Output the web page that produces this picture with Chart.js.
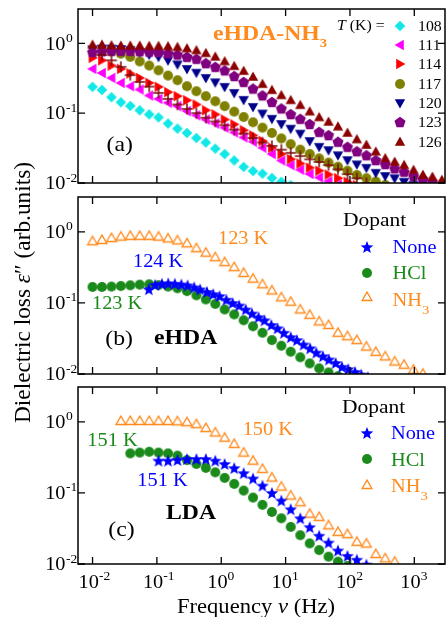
<!DOCTYPE html>
<html>
<head>
<meta charset="utf-8">
<title>Dielectric loss spectra</title>
<script src="https://cdn.jsdelivr.net/npm/chart.js@4.4.1/dist/chart.umd.min.js"></script>
<style>
html,body{margin:0;padding:0;background:#fff;overflow:hidden;width:448px;height:617px;}
#wrap{position:relative;width:448px;height:617px;overflow:hidden;background:#fff;}
#wrap canvas{position:absolute;left:0;top:0;}
</style>
</head>
<body>
<div id="wrap">
<canvas id="pa" width="452" height="617"></canvas>
<canvas id="pb" width="452" height="617"></canvas>
<canvas id="pc" width="452" height="617"></canvas>
</div>
<script>
// ===================== DATA =====================
// common measuring-frequency grid (Hz)
const FREQ = [0.0100,0.0140,0.0197,0.0275,0.0386,0.0541,0.0759,0.106,0.149,0.209,
              0.293,0.411,0.576,0.808,1.13,1.59,2.23,3.12,4.37,6.13,
              8.59,12.0,16.9,23.7,33.2,46.5,65.2,91.4,128,180,
              252,353,495,694,972,1360,1910,2680];

// (a) eHDA-NH3 at several temperatures
const A_TEMPS = ['108','111','114','117','120','123','126'];
const A_108 = [0.238,0.215,0.169,0.143,0.127,0.110,0.096,0.087,0.071,0.060,0.052,0.044,0.038,0.031,0.026,0.021,0.017,0.0148,0.0136,0.0118,0.0104,0.0093];
const A_111 = [0.43,0.376,0.32,0.271,0.243,0.218,0.179,0.16,0.141,0.126,0.107,0.093,0.081,0.071,0.062,0.053,0.045,0.039,0.032,0.026,0.021,0.018,0.0155,0.0135,0.012,0.0106,0.0095];
const A_114 = [0.62,0.57,0.48,0.43,0.37,0.32,0.271,0.238,0.2,0.175,0.153,0.133,0.11,0.096,0.081,0.069,0.057,0.048,0.040,0.032,0.026,0.022,0.019,0.0166,0.015,0.0132,0.0117,0.0104,0.0093];
const A_117 = [null,null,0.77,0.71,0.64,0.55,0.48,0.41,0.345,0.296,0.243,0.206,0.175,0.148,0.126,0.105,0.088,0.074,0.062,0.052,0.0435,0.036,0.030,0.026,0.0225,0.0196,0.0171,0.015,0.013,0.0117,0.0105,0.0094];
const A_120 = [0.82,0.84,0.84,0.83,0.80,0.75,0.69,0.64,0.57,0.50,0.43,0.38,0.32,0.277,0.238,0.195,0.155,0.123,0.099,0.083,0.070,0.060,0.051,0.040,0.033,0.0296,0.025,0.0213,0.0185,0.0165,0.014,0.0126,0.0117,0.0104,0.0094];
const A_123 = [0.75,0.77,0.78,0.78,0.78,0.77,0.76,0.75,0.72,0.69,0.64,0.60,0.52,0.46,0.41,0.34,0.28,0.225,0.18,0.145,0.117,0.097,0.083,0.070,0.054,0.0485,0.039,0.033,0.0285,0.025,0.0213,0.0187,0.0162,0.0145,0.0126,0.0113,0.0104,0.0094];
const A_126 = [0.95,0.95,0.93,0.92,0.92,0.92,0.91,0.91,0.90,0.88,0.84,0.79,0.72,0.64,0.55,0.47,0.40,0.33,0.26,0.213,0.18,0.153,0.13,0.105,0.087,0.075,0.064,0.052,0.042,0.035,0.028,0.0225,0.020,0.018,0.0153,0.013,0.0122,0.011];
const A_PLUS = [null,0.68,0.57,0.46,0.35,0.28,0.24,0.195,0.16,0.133,0.115,0.10,0.086,0.076,0.067,0.058,0.051,0.044,0.038,0.034,0.030,0.027,0.0243,0.0218,0.020,0.018,0.0157,0.0134,0.0117,0.0100];

// (b) eHDA with dopants
const DOPANTS = ['None','HCl','NH'];
const B_NH3 = [0.74,0.77,0.82,0.86,0.88,0.88,0.88,0.86,0.81,0.76,0.69,0.59,0.51,0.44,0.375,0.32,0.265,0.22,0.183,0.15,0.12,0.104,0.081,0.068,0.055,0.049,0.038,0.034,0.030,0.0243,0.0205,0.0177,0.015,0.0135,0.0115,0.0101];
const B_HCL = [0.168,0.168,0.17,0.173,0.177,0.181,0.183,0.178,0.17,0.161,0.147,0.128,0.112,0.097,0.081,0.069,0.057,0.047,0.038,0.030,0.025,0.0206,0.0172,0.0141,0.012,0.0105,0.0093];
const B_NONE_FREQ = [0.075,0.094,0.12,0.15,0.19,0.24,0.30,0.38,0.47,0.60,0.75,0.94,1.2,1.5,1.9,2.4,3.0,3.8,4.7,6.0,7.5,9.4,12,15,19,24,30,38,47,60,75,94,120,150,190];
const B_NONE = [0.156,0.18,0.186,0.189,0.186,0.182,0.177,0.166,0.155,0.143,0.133,0.125,0.111,0.100,0.092,0.081,0.071,0.063,0.057,0.049,0.044,0.038,0.033,0.030,0.026,0.023,0.020,0.0178,0.016,0.0143,0.0126,0.0117,0.0107,0.0098,0.009];

// (c) LDA with dopants
const C_NH3 = [null,null,null,1.03,1.03,1.03,1.03,1.03,1.03,1.02,0.99,0.93,0.82,0.71,0.60,0.49,0.37,0.285,0.218,0.165,0.123,0.092,0.074,0.051,0.046,0.035,0.0283,0.0263,0.0205,0.0194,0.0138,0.012,0.0108];
const C_HCL = [null,null,null,null,0.36,0.37,0.38,0.37,0.36,0.335,0.29,0.256,0.225,0.195,0.163,0.134,0.108,0.086,0.068,0.054,0.044,0.0333,0.0254,0.0195,0.0157,0.0127,0.0108,0.0094];
const C_NONE = [null,null,null,null,null,null,null,0.285,0.285,0.291,0.30,0.30,0.30,0.285,0.256,0.224,0.19,0.16,0.127,0.10,0.078,0.059,0.044,0.033,0.025,0.020,0.0155,0.013,0.0115,0.0098];

// axis ticks
const X_TICKS = [0.01,0.1,1,10,100,1000];
const X_TICK_EXP = ['-2','-1','0','1','2','3'];
const Y_TICKS = [0.01,0.1,1];
const Y_TICK_EXP = ['-2','-1','0'];

// ===================== STYLE =====================
const X_MIN = 0.005943, X_MAX = 2999, Y_MIN = 0.01, Y_MAX = 3.1;
const SX = 1.13;
const FAM = "'Liberation Serif','Times New Roman',Times,serif";
const F = (s, st) => (st ? st + ' ' : '') + s + 'px ' + FAM;
const ORANGE = '#ff8a1d', GREEN = '#1a8a1a', BLUE = '#0000ff';

function mk(shape, fill, stroke, lw) {
  const S = 18, m = S / 2;
  const c = document.createElement('canvas'); c.width = S; c.height = S;
  const g = c.getContext('2d');
  g.beginPath();
  const poly = p => { g.moveTo(m + p[0][0], m + p[0][1]); for (let i = 1; i < p.length; i++) g.lineTo(m + p[i][0], m + p[i][1]); g.closePath(); };
  if (shape === 'diamond') poly([[0,-5.3],[5.3,0],[0,5.3],[-5.3,0]]);
  else if (shape === 'up') poly([[0,-5.4],[5.2,3.8],[-5.2,3.8]]);
  else if (shape === 'upO') poly([[0,-4.9],[4.9,3.5],[-4.9,3.5]]);
  else if (shape === 'down') poly([[0,5.4],[5.2,-3.8],[-5.2,-3.8]]);
  else if (shape === 'left') poly([[-5.4,0],[3.8,-5.2],[3.8,5.2]]);
  else if (shape === 'right') poly([[5.4,0],[-3.8,-5.2],[-3.8,5.2]]);
  else if (shape === 'circle') g.arc(m, m, 5, 0, Math.PI * 2);
  else if (shape === 'pentagon') { const p = []; for (let i = 0; i < 5; i++) { const a = -Math.PI / 2 + i * 2 * Math.PI / 5; p.push([5.8 * Math.cos(a), 5.8 * Math.sin(a) + 0.5]); } poly(p); }
  else if (shape === 'star') { const p = []; for (let i = 0; i < 10; i++) { const r = i % 2 ? 2.8 : 6.6; const a = -Math.PI / 2 + i * Math.PI / 5; p.push([r * Math.cos(a), r * Math.sin(a) + 0.6]); } poly(p); }
  else if (shape === 'plus') { g.moveTo(m - 5.5, m); g.lineTo(m + 5.5, m); g.moveTo(m, m - 5.5); g.lineTo(m, m + 5.5); }
  if (fill) { g.fillStyle = fill; g.fill(); }
  if (stroke) { g.strokeStyle = stroke; g.lineWidth = lw; g.stroke(); }
  return c;
}
const M_CYAN = mk('diamond', '#12e8e8'), M_MAG = mk('left', '#ff00ff'), M_RED = mk('right', '#ff0000'),
      M_OLIVE = mk('circle', '#808000'), M_NAVY = mk('down', '#00008b'), M_PURPLE = mk('pentagon', '#800080'),
      M_BROWN = mk('up', '#8b0000'), M_PLUS = mk('plus', null, '#7a0a0a', 1.5),
      M_STAR = mk('star', BLUE), M_GREEN = mk('circle', GREEN), M_OPEN = mk('upO', null, ORANGE, 1.3);

function pts(freq, vals) { const o = []; vals.forEach((v, i) => { if (v != null) o.push({ x: freq[i], y: v }); }); return o; }
function ds(label, freq, vals, marker) {
  return { label, data: pts(freq, vals), pointStyle: marker, pointRadius: 6, pointHoverRadius: 6, showLine: false, clip: 0 };
}

function runs(ctx, x, y, parts, align) {
  ctx.save();
  let total = 0;
  parts.forEach(p => { ctx.font = p[1]; total += ctx.measureText(p[0]).width * SX; });
  let cx = align === 'center' ? x - total / 2 : align === 'right' ? x - total : x;
  ctx.textBaseline = 'alphabetic'; ctx.textAlign = 'left';
  parts.forEach(p => {
    ctx.font = p[1]; ctx.fillStyle = p[2] || '#000';
    const w = ctx.measureText(p[0]).width;
    ctx.save(); ctx.translate(cx, y + (p[3] || 0)); ctx.scale(SX, 1); ctx.fillText(p[0], 0, 0); ctx.restore();
    cx += w * SX;
  });
  ctx.restore();
  return total;
}
function mark(ctx, m, x, y) { ctx.drawImage(m, Math.round(x - 9), Math.round(y - 9)); }

const framePlugin = {
  id: 'frame',
  afterDatasetsDraw(chart, args, opts) {
    const { ctx, chartArea: a } = chart;
    const xs = chart.scales.x, ys = chart.scales.y;
    ctx.save();
    ctx.strokeStyle = '#000';
    ctx.lineWidth = 1.5;
    ctx.strokeRect(a.left, a.top, a.right - a.left, a.bottom - a.top);
    ctx.lineWidth = 1.3;
    ctx.beginPath();
    X_TICKS.forEach(v => { const p = xs.getPixelForValue(v); ctx.moveTo(p, a.bottom); ctx.lineTo(p, a.bottom - 7); ctx.moveTo(p, a.top); ctx.lineTo(p, a.top + 7); });
    Y_TICKS.forEach(v => { const p = ys.getPixelForValue(v); ctx.moveTo(a.left, p); ctx.lineTo(a.left + 7, p); ctx.moveTo(a.right, p); ctx.lineTo(a.right - 7, p); });
    ctx.stroke();
    Y_TICKS.forEach((v, i) => {
      const p = ys.getPixelForValue(v);
      runs(ctx, 65.5, p + 6.3, [['10', F(18)]], 'right');
      runs(ctx, 66, p - 1.5, [[Y_TICK_EXP[i], F(12)]]);
    });
    if (opts && opts.xLabels) {
      X_TICKS.forEach((v, i) => {
        const p = xs.getPixelForValue(v);
        const w = runs(ctx, p - 14, 588, [['10', F(18)]]);
        runs(ctx, p - 14 + w, 580, [[X_TICK_EXP[i], F(12)]]);
      });
    }
    ctx.restore();
  }
};

function panel(id, top, bottom, datasets, frameOpts, annot) {
  return new Chart(document.getElementById(id), {
    type: 'scatter',
    data: { datasets },
    options: {
      responsive: false, animation: false, events: [],
      layout: { padding: { left: 78, right: 2, top: top, bottom: 617 - bottom } },
      plugins: { legend: { display: false }, tooltip: { enabled: false }, frame: frameOpts },
      scales: {
        x: { type: 'logarithmic', min: X_MIN, max: X_MAX, display: false },
        y: { type: 'logarithmic', min: Y_MIN, max: Y_MAX, display: false }
      }
    },
    plugins: [framePlugin, { id: 'annot_' + id, afterDraw: annot }]
  });
}

// ---------- panel (a) ----------
const A_MARKERS = [M_CYAN, M_MAG, M_RED, M_OLIVE, M_NAVY, M_PURPLE, M_BROWN];
panel('pa', 9, 183, [
  ds('fit', FREQ, A_PLUS, M_PLUS),
  ds('126 K', FREQ, A_126, M_BROWN),
  ds('123 K', FREQ, A_123, M_PURPLE),
  ds('120 K', FREQ, A_120, M_NAVY),
  ds('117 K', FREQ, A_117, M_OLIVE),
  ds('114 K', FREQ, A_114, M_RED),
  ds('111 K', FREQ, A_111, M_MAG),
  ds('108 K', FREQ, A_108, M_CYAN)
], { xLabels: false }, chart => {
  const ctx = chart.ctx;
  runs(ctx, 213, 40, [['eHDA-NH', F(21, 'bold'), ORANGE], ['3', F(13, 'bold'), ORANGE, 7]]);
  runs(ctx, 106.5, 151.3, [['(a)', F(21)]]);
  runs(ctx, 337, 29.5, [['T', F(14, 'italic')], [' (K) =', F(14)]]);
  A_TEMPS.forEach((t, i) => {
    const yc = 25.7 + i * 19.33;
    mark(ctx, A_MARKERS[i], 400, yc);
    runs(ctx, 418, yc + 5, [[t, F(14)]]);
  });
});

function dopantLegend(ctx, x0, yD, xm, xt, rows) {
  runs(ctx, x0, yD, [['Dopant', F(19)]]);
  const cols = [BLUE, GREEN, ORANGE], ms = [M_STAR, M_GREEN, M_OPEN];
  DOPANTS.forEach((d, i) => {
    mark(ctx, ms[i], xm, rows[i][0]);
    const parts = [[d, F(18), cols[i]]];
    if (i === 2) parts.push(['3', F(13), cols[i], 8]);
    runs(ctx, xt, rows[i][1], parts);
  });
}

// ---------- panel (b) ----------
panel('pb', 197, 374, [
  ds('None 124 K', B_NONE_FREQ, B_NONE, M_STAR),
  ds('HCl 123 K', FREQ, B_HCL, M_GREEN),
  ds('NH3 123 K', FREQ, B_NH3, M_OPEN)
], { xLabels: false }, chart => {
  const ctx = chart.ctx;
  runs(ctx, 218, 244, [['123 K', F(18), ORANGE]]);
  runs(ctx, 133, 267, [['124 K', F(18), BLUE]]);
  runs(ctx, 92, 309, [['123 K', F(18), GREEN]]);
  runs(ctx, 105.3, 344.6, [['(b)', F(21)]]);
  runs(ctx, 154, 344, [['eHDA', F(21, 'bold')]]);
  dopantLegend(ctx, 343, 226, 367, 392.5, [[246.7, 252.7], [272.7, 279.3], [296.7, 305.5]]);
});

// ---------- panel (c) ----------
panel('pc', 387, 564, [
  ds('None 151 K', FREQ, C_NONE, M_STAR),
  ds('HCl 151 K', FREQ, C_HCL, M_GREEN),
  ds('NH3 150 K', FREQ, C_NH3, M_OPEN)
], { xLabels: true }, chart => {
  const ctx = chart.ctx;
  runs(ctx, 242.7, 434.5, [['150 K', F(18), ORANGE]]);
  runs(ctx, 87.3, 445.5, [['151 K', F(18), GREEN]]);
  runs(ctx, 137.3, 485.5, [['151 K', F(18), BLUE]]);
  runs(ctx, 166, 519.3, [['LDA', F(21, 'bold')]]);
  runs(ctx, 108.3, 536.3, [['(c)', F(21)]]);
  dopantLegend(ctx, 342, 412.6, 366.5, 391, [[433.3, 439.3], [459, 466], [485, 491.7]]);
  // x-axis title
  runs(ctx, 256, 613, [['Frequency ', F(20)], ['\u03BD', F(20, 'italic')], [' (Hz)', F(20)]], 'center');
  // y-axis title (rotated)
  const parts = [['Dielectric loss ', F(20)], ['\u03B5', F(20, 'italic')], ['\u2033', F(20)], [' (arb.units)', F(20)]];
  ctx.save();
  let W = 0; parts.forEach(p => { ctx.font = p[1]; W += ctx.measureText(p[0]).width; });
  ctx.translate(30, 292.5); ctx.rotate(-Math.PI / 2); ctx.scale(261 / W, SX);
  ctx.fillStyle = '#000'; ctx.textBaseline = 'alphabetic'; ctx.textAlign = 'left';
  let x = -W / 2;
  parts.forEach(p => { ctx.font = p[1]; ctx.fillText(p[0], x, 0); x += ctx.measureText(p[0]).width; });
  ctx.restore();
});
</script>
</body>
</html>
